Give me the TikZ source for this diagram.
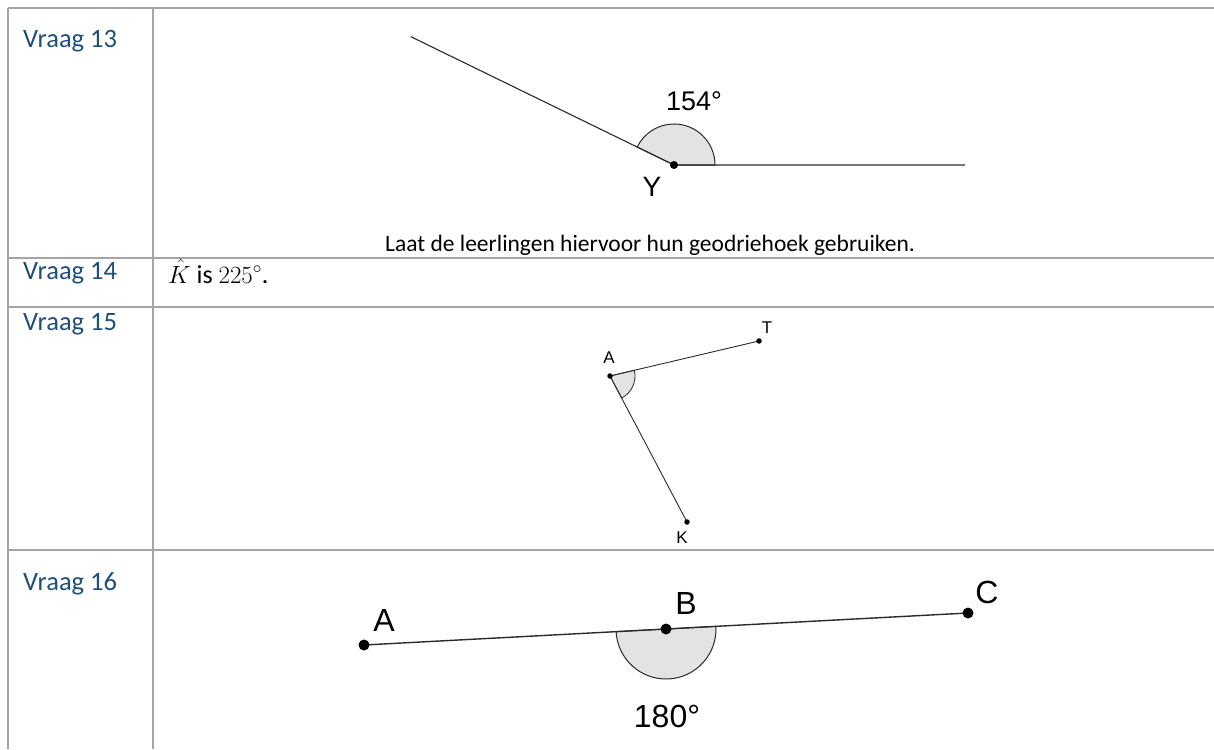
\documentclass[tikz,border=0pt]{standalone}
\usepackage{fontspec}
\setmainfont{Carlito}
\newfontfamily\geofont{Liberation Sans}
\definecolor{gridgray}{HTML}{A5A5A5}
\definecolor{labelblue}{HTML}{1F4E79}
\definecolor{arcfill}{HTML}{E3E3E3}
\definecolor{geoline}{HTML}{2A2A2A}
\tikzset{
  grid/.style={draw=gridgray, line width=1.8pt},
  qlabel/.style={anchor=base west, inner sep=0pt, text=labelblue, font=\fontsize{26.5}{30}\selectfont},
  bodytext/.style={anchor=base west, inner sep=0pt, font=\fontsize{23.5}{28}\selectfont},
  seg/.style={draw=geoline, line width=1.1pt},
  angfill/.style={fill=arcfill, draw=geoline, line width=1pt},
  geolab/.style={inner sep=0pt, font=\geofont\fontsize{#1}{#1}\selectfont},
  pt/.style={fill=black, circle, inner sep=0pt, minimum size=#1},
}
\begin{document}
\begin{tikzpicture}[x=1pt, y=-1pt]
\useasboundingbox (0,0) rectangle (1214,749);
% table grid
\draw[grid] (8,8) -- (1214,8);
\draw[grid] (8,258) -- (1214,258);
\draw[grid] (8,307) -- (1214,307);
\draw[grid] (8,550) -- (1214,550);
\draw[grid] (8,8) -- (8,749);
\draw[grid] (153,8) -- (153,749);
% row labels
\node[qlabel] (q13) at (23,48) {Vraag 13};
\node[qlabel] (q14) at (23,279) {Vraag 14};
\node[qlabel] (q15) at (23,330) {Vraag 15};
\node[qlabel] (q16) at (23,590) {Vraag 16};
% Vraag 13
\coordinate (Y) at (674,165);
\coordinate (YL) at (410.7,36.6);
\coordinate (YR) at (965,165);
\filldraw[angfill] (Y) -- ++(0:41) arc[start angle=0, end angle=-154, radius=41] -- cycle;
\draw[seg] (YL) -- (Y) -- (YR);
\node[pt=8pt] (Ydot) at (Y) {};
\node[geolab=28] (Ylab) at (652,187) {Y};
\node[geolab=27] (a154) at (694,101) {154°};
\node[bodytext] (laat) at (385,251) {Laat de leerlingen hiervoor hun geodriehoek gebruiken.};
% Vraag 14
\node[bodytext, font=\fontsize{26}{30}\selectfont] (k225) at (168,283) {$\hat{K}$ is $225^{\circ}$.};
% Vraag 15
\coordinate (A1) at (610,376);
\coordinate (T1) at (759,341);
\coordinate (K1) at (687,522);
\filldraw[angfill, line width=0.8pt] (A1) -- ++(-13.2:25) arc[start angle=-13.2, end angle=62.2, radius=25] -- cycle;
\draw[seg, line width=0.9pt] (T1) -- (A1) -- (K1);
\node[pt=5.5pt] (A1dot) at (A1) {};
\node[pt=5.5pt] (T1dot) at (T1) {};
\node[pt=5.5pt] (K1dot) at (K1) {};
\node[geolab=17] (A1lab) at (609,358) {A};
\node[geolab=17] (T1lab) at (767,328) {T};
\node[geolab=17] (K1lab) at (682,538) {K};
% Vraag 16
\coordinate (A2) at (364,645);
\coordinate (B2) at (666,629);
\coordinate (C2) at (968,613);
\filldraw[angfill] (B2) -- ++(-3.03:50) arc[start angle=-3.03, end angle=176.97, radius=50] -- cycle;
\draw[seg, line width=1.4pt] (A2) -- (B2) -- (C2);
\node[pt=11pt] (A2dot) at (A2) {};
\node[pt=11pt] (B2dot) at (B2) {};
\node[pt=11pt] (C2dot) at (C2) {};
\node[geolab=32] (A2lab) at (384,620) {A};
\node[geolab=32] (B2lab) at (686,603) {B};
\node[geolab=32] (C2lab) at (987,592) {C};
\node[geolab=32] (a180) at (667,716) {180°};
\end{tikzpicture}
\end{document}
